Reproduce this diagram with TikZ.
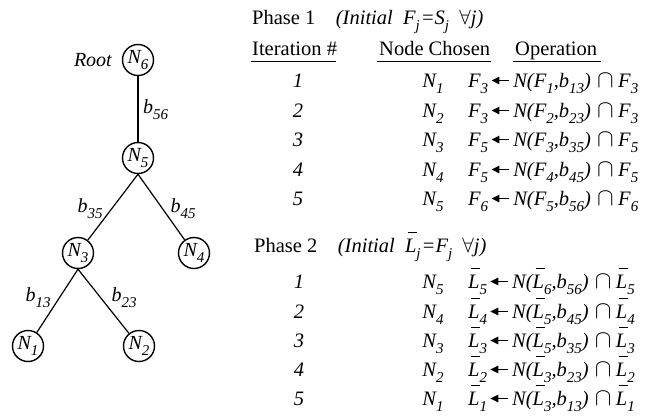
\documentclass[tikz,border=0pt]{standalone}
\usepackage{fontspec}
\setmainfont{Liberation Serif}
\usetikzlibrary{arrows.meta}
\newcommand\subs[1]{\raisebox{-0.3em}{\fontsize{15}{15}\selectfont #1}}
\newcommand\LB{\makebox[0pt][l]{\hspace{0.14em}\rule[0.92em]{0.45em}{0.06em}}L}
\newcommand\larr{\hspace{0.12em}\tikz[x=1pt,y=1pt,baseline=-6.5pt]{\draw[line width=1.5pt,-{Triangle[length=8pt,width=7.5pt]}] (18pt,0pt)--(0pt,0pt);}\hspace{0.15em}}
\newcommand\capp{\hspace{0.3em}{\fontsize{25}{25}\selectfont$\cap$}\hspace{0.22em}}
\begin{document}
\begin{tikzpicture}[x=1pt,y=-1pt,
  tn/.style={circle,draw,line width=1.4pt,minimum size=31pt,inner sep=0pt,font=\fontsize{20}{22}\selectfont\itshape},
  edge/.style={line width=1.2pt},
  lab/.style={font=\fontsize{20}{22}\selectfont\itshape,inner sep=0pt},
  txt/.style={font=\fontsize{20.5}{24}\selectfont,inner sep=0pt,anchor=base west},
  itx/.style={font=\fontsize{20.5}{24}\selectfont\itshape,inner sep=0pt,anchor=base},
  op/.style={font=\fontsize{20.5}{24}\selectfont\itshape,inner sep=0pt,anchor=base west},
  ul/.style={line width=1pt}]
\useasboundingbox (0,0) rectangle (662,416);
% tree
\node[tn] (N6) at (138,60) {N\subs{6}};
\node[tn] (N5) at (138,158) {N\subs{5}};
\node[tn] (N3) at (78,253) {N\subs{3}};
\node[tn] (N4) at (194,253) {N\subs{4}};
\node[tn] (N1) at (28,346) {N\subs{1}};
\node[tn] (N2) at (139,346) {N\subs{2}};
\node[lab,anchor=east] (root) at (112,60) {Root};
\draw[edge] (N6) -- (N5);
\draw[edge] (N5.south) -- (N3);
\draw[edge] (N5.south) -- (N4);
\draw[edge] (N3.south) -- (N1);
\draw[edge] (N3.south) -- (N2);
\node[lab,anchor=west] (l56) at (143,110) {b\subs{56}};
\node[lab] (l35) at (90,209) {b\subs{35}};
\node[lab] (l45) at (183,209) {b\subs{45}};
\node[lab] (l13) at (38,298) {b\subs{13}};
\node[lab] (l23) at (124,298) {b\subs{23}};
% phase 1
\node[txt] (p1) at (252,24) {Phase 1\quad\textit{(Initial\enspace F\subs{j}\kern0.05em=S\subs{j}\enspace $\forall$j)}};
\node[txt] (h1) at (252,55) {Iteration \#};
\node[txt] (h2) at (379,55) {Node Chosen};
\node[txt] (h3) at (515,55) {Operation};
\draw[ul] (251,61) -- (336,61);
\draw[ul] (377,61) -- (491,61);
\draw[ul] (513,61) -- (601,61);
\foreach \i/\y/\n/\f in {1/87/1/{F\subs{3}\larr N(F\subs{1},b\subs{13})\capp F\subs{3}},
                         2/117/2/{F\subs{3}\larr N(F\subs{2},b\subs{23})\capp F\subs{3}},
                         3/146/3/{F\subs{5}\larr N(F\subs{3},b\subs{35})\capp F\subs{5}},
                         4/176/4/{F\subs{5}\larr N(F\subs{4},b\subs{45})\capp F\subs{5}},
                         5/205/5/{F\subs{6}\larr N(F\subs{5},b\subs{56})\capp F\subs{6}}}{
  \node[itx] (a\i) at (298,\y) {\i};
  \node[itx] (b\i) at (433,\y) {N\subs{\n}};
  \node[op] (c\i) at (468,\y) {\f};
}
% phase 2
\node[txt] (p2) at (254,252) {Phase 2\quad\textit{(Initial\enspace \LB\subs{j}\kern0.05em=F\subs{j}\enspace $\forall$j)}};
\foreach \i/\y/\n/\f in {1/288/5/{\LB\subs{5}\larr N(\LB\subs{6},b\subs{56})\capp \LB\subs{5}},
                         2/318/4/{\LB\subs{4}\larr N(\LB\subs{5},b\subs{45})\capp \LB\subs{4}},
                         3/347/3/{\LB\subs{3}\larr N(\LB\subs{5},b\subs{35})\capp \LB\subs{3}},
                         4/376/2/{\LB\subs{2}\larr N(\LB\subs{3},b\subs{23})\capp \LB\subs{2}},
                         5/405/1/{\LB\subs{1}\larr N(\LB\subs{3},b\subs{13})\capp \LB\subs{1}}}{
  \node[itx] (d\i) at (299,\y) {\i};
  \node[itx] (e\i) at (433,\y) {N\subs{\n}};
  \node[op] (f\i) at (468,\y) {\f};
}
\end{tikzpicture}
\end{document}
